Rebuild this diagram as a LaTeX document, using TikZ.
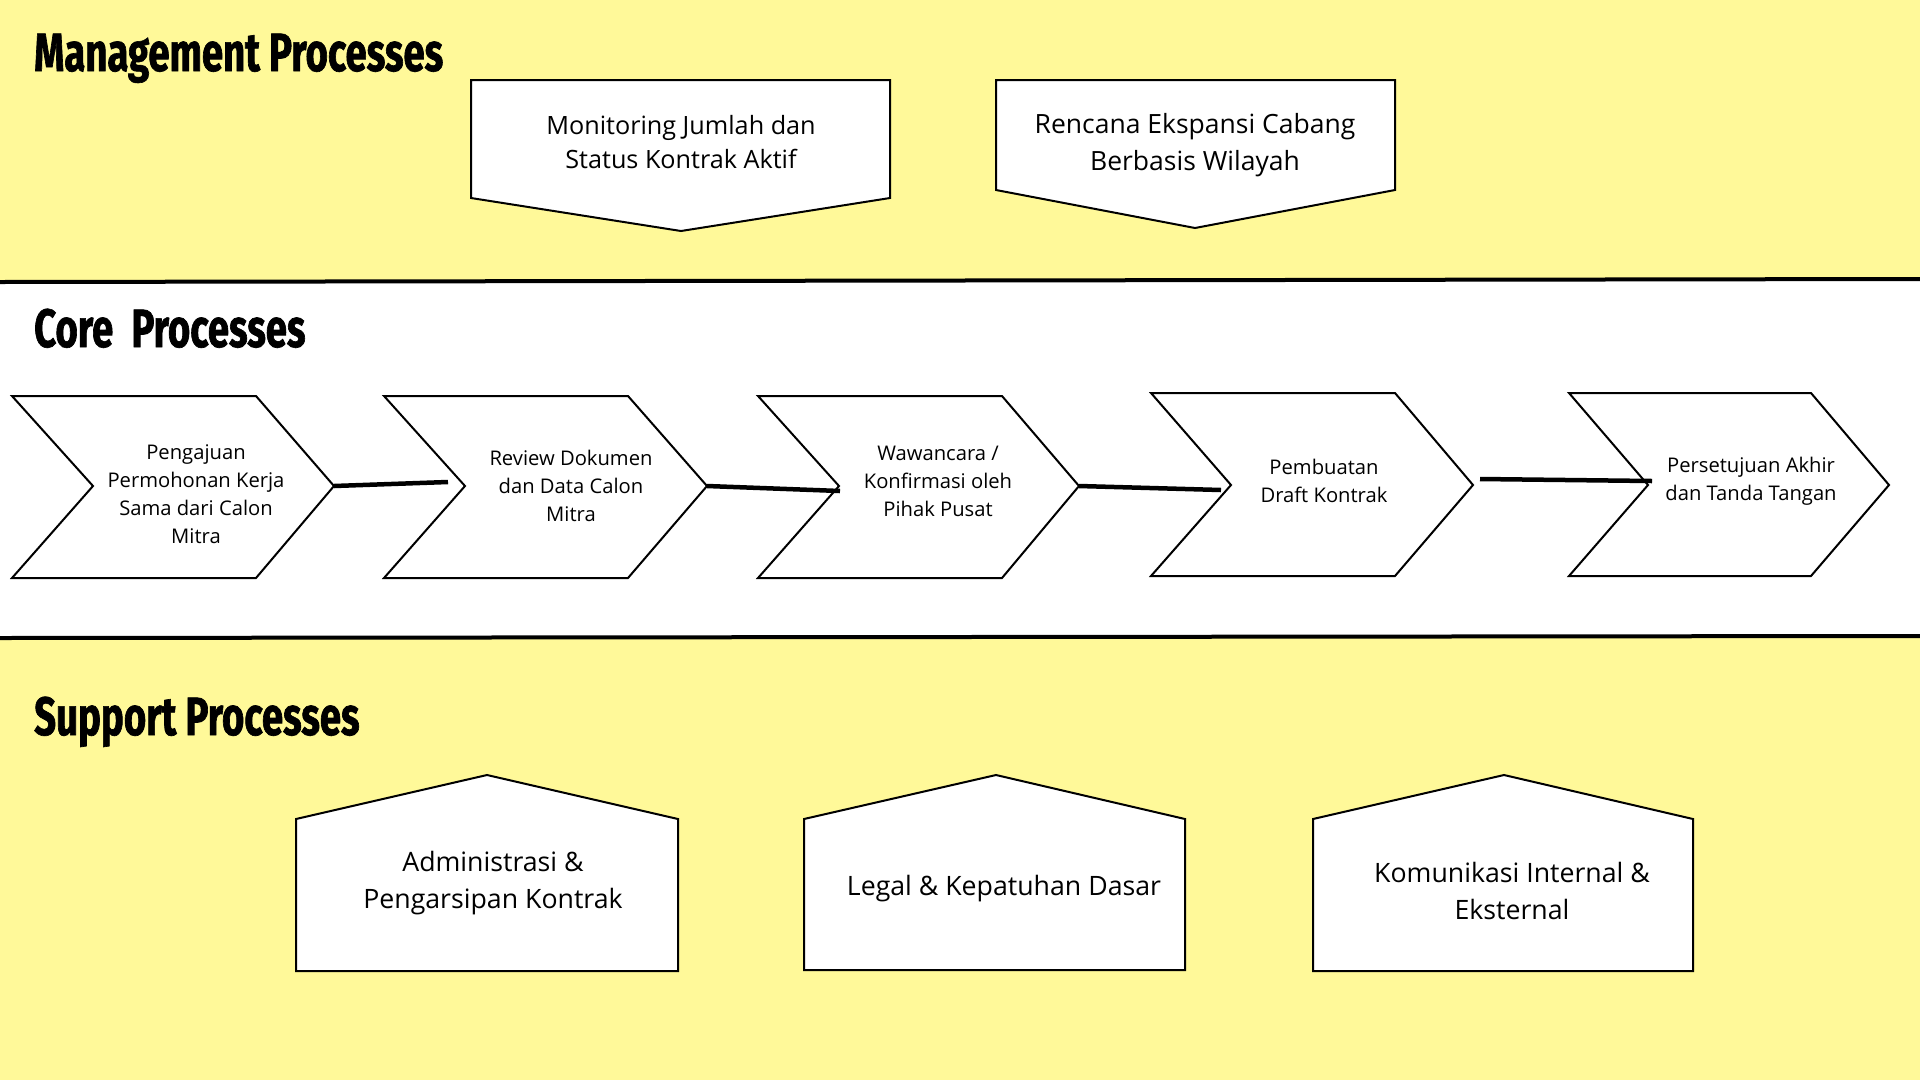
\documentclass[tikz,border=0pt]{standalone}
\usepackage{fontspec}
\setmainfont{Open Sans}
\newfontfamily\titlefont[FakeStretch=0.71,FakeBold=1.2]{Fira Sans}
\definecolor{bandyellow}{RGB}{255,249,153}
\begin{document}
\begin{tikzpicture}[x=1pt,y=-1pt,
  shapeline/.style={draw=black,line width=2pt,fill=white,line join=miter},
  conn/.style={line width=4.5pt},
  divider/.style={line width=4pt},
  sectitle/.style={anchor=base west,inner sep=0pt,font=\titlefont\bfseries\fontsize{54}{60}\selectfont},
  mtext/.style={align=center,font=\fontsize{25.2}{34}\selectfont,inner sep=0pt},
  mtextb/.style={align=center,font=\fontsize{26.5}{37}\selectfont,inner sep=0pt},
  ctext/.style={align=center,font=\fontsize{20.2}{28}\selectfont,inner sep=0pt},
  stext/.style={align=center,font=\fontsize{26.7}{37}\selectfont,inner sep=0pt}]

\useasboundingbox (0,0) rectangle (1920,1080);
% bands
\fill[bandyellow] (0,0) rectangle (1920,281);
\fill[bandyellow] (0,637) rectangle (1920,1080);
\draw[divider] (0,282) -- (1920,279);
\draw[divider] (0,638) -- (1920,636);

% titles
\node[sectitle] (tman) at (34,71) {Management Processes};
\node[sectitle] (tcore) at (34,347) {Core~~Processes};
\node[sectitle] (tsup) at (34,735) {Support Processes};

% management boxes
\draw[shapeline] (471,80) -- (890,80) -- (890,198) -- (681,231) -- (471,198) -- cycle;
\node[mtext] (m1) at (681,142) {Monitoring Jumlah dan\\Status Kontrak Aktif};
\draw[shapeline] (996,80) -- (1395,80) -- (1395,190) -- (1195,228) -- (996,190) -- cycle;
\node[mtextb] (m2) at (1195,145) {Rencana Ekspansi Cabang\\Berbasis Wilayah};

% core chevrons
\draw[shapeline] (12,396) -- (256,396) -- (334,486) coordinate (c1tip) -- (256,578) -- (12,578) -- (93,486) coordinate (c1notch) -- cycle;
\draw[shapeline] (384,396) -- (628,396) -- (707,486) coordinate (c2tip) -- (628,578) -- (384,578) -- (465,486) coordinate (c2notch) -- cycle;
\draw[shapeline] (758,396) -- (1002,396) -- (1079,486) coordinate (c3tip) -- (1002,578) -- (758,578) -- (839,486) coordinate (c3notch) -- cycle;
\draw[shapeline] (1151,393) -- (1395,393) -- (1473,485) coordinate (c4tip) -- (1395,576) -- (1151,576) -- (1231,485) coordinate (c4notch) -- cycle;
\draw[shapeline] (1569,393) -- (1811,393) -- (1889,485) coordinate (c5tip) -- (1811,576) -- (1569,576) -- (1648,485) coordinate (c5notch) -- cycle;

\node[ctext] (p1) at (196,494) {Pengajuan\\Permohonan Kerja\\Sama dari Calon\\Mitra};
\node[ctext] (p2) at (571,486) {Review Dokumen\\dan Data Calon\\Mitra};
\node[ctext] (p3) at (938,481) {Wawancara /\\Konfirmasi oleh\\Pihak Pusat};
\node[ctext] (p4) at (1324,481) {Pembuatan\\Draft Kontrak};
\node[ctext] (p5) at (1751,481) {Persetujuan Akhir\\dan Tanda Tangan};

% connectors
\coordinate (l1end) at (448,482);
\coordinate (l2end) at (840,491);
\coordinate (l3end) at (1221,490);
\coordinate (l4start) at (1480,479);
\coordinate (l4end) at (1652,481);
\draw[conn] (c1tip) -- (l1end);
\draw[conn] (c2tip) -- (l2end);
\draw[conn] (c3tip) -- (l3end);
\draw[conn] (l4start) -- (l4end);

% support houses
\draw[shapeline] (296,819) -- (487,775) -- (678,819) -- (678,971) -- (296,971) -- cycle;
\node[stext] (s1) at (493,883) {Administrasi \&\\Pengarsipan Kontrak};
\draw[shapeline] (804,819) -- (996,775) -- (1185,819) -- (1185,970) -- (804,970) -- cycle;
\node[stext] (s2) at (1004,889) {Legal \& Kepatuhan Dasar};
\draw[shapeline] (1313,819) -- (1504,775) -- (1693,819) -- (1693,971) -- (1313,971) -- cycle;
\node[stext] (s3) at (1512,891) {Komunikasi Internal \&\\Eksternal};
\end{tikzpicture}
\end{document}
